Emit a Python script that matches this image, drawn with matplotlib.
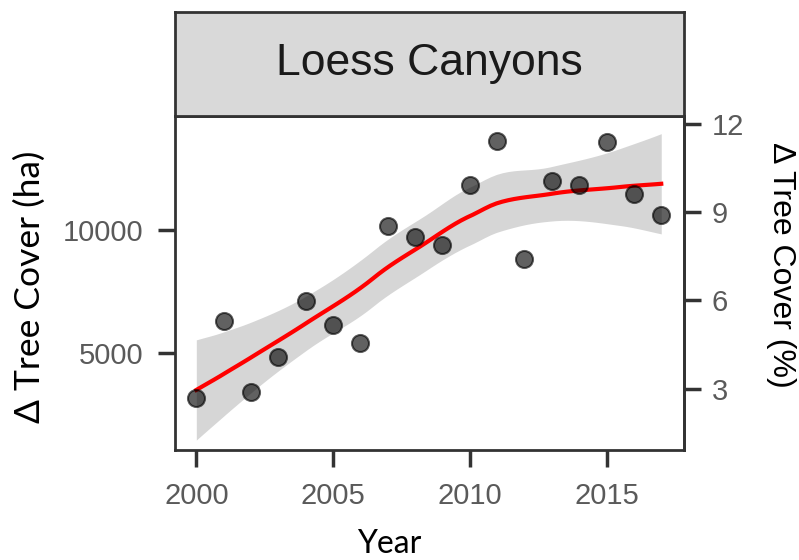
import math
import matplotlib
matplotlib.use("Agg")
import matplotlib.pyplot as plt
import numpy as np

# Annual change in tree cover, Loess Canyons
years = np.arange(2000, 2018)
tree_cover_ha = np.array([3180, 6310, 3420, 4860, 7130, 6150, 5400, 10150, 9690,
                          9370, 11790, 13570, 8800, 11960, 11800, 13530, 11450, 10570])
region = "Loess Canyons"
total_area_ha = 119000  # used for the % axis

x_ticks = [2000, 2005, 2010, 2015]
y_ticks = [5000, 10000]
pct_ticks = [3, 6, 9, 12]

SPAN = 0.75
DEGREE = 1


def local_fit(x, x0, span=SPAN, degree=DEGREE):
    # tricube-weighted local polynomial; returns operator rows for value and slope
    n = len(x)
    q = int(np.floor(n * span))
    d = np.abs(x - x0)
    h = np.sort(d)[q - 1]
    u = np.clip(d / h, 0, 1)
    w = (1 - u ** 3) ** 3
    X = np.column_stack([(x - x0) ** k for k in range(degree + 1)])
    XtW = X.T * w
    B = np.linalg.solve(XtW @ X, XtW)
    return B[0], B[1]


def kd_splits(pts, fc):
    if len(pts) <= fc:
        return []
    m = np.median(pts)
    left, right = pts[pts <= m], pts[pts > m]
    if len(right) == 0:
        return []
    return kd_splits(left, fc) + [m] + kd_splits(right, fc)


def loess_operator(x, x_eval, span=SPAN):
    # fit at kd-tree vertices, cubic Hermite in between
    margin = 0.005 * (x.max() - x.min())
    fc = int(np.floor(len(x) * span * 0.2))
    verts = np.array([x.min() - margin] + kd_splits(np.sort(x), fc) + [x.max() + margin])
    vals, slopes = zip(*[local_fit(x, v, span) for v in verts])
    vals, slopes = np.array(vals), np.array(slopes)
    rows = []
    for t in x_eval:
        i = min(np.searchsorted(verts, t, side="right") - 1, len(verts) - 2)
        hh = verts[i + 1] - verts[i]
        s = (t - verts[i]) / hh
        h00 = 2 * s ** 3 - 3 * s ** 2 + 1
        h10 = s ** 3 - 2 * s ** 2 + s
        h01 = -2 * s ** 3 + 3 * s ** 2
        h11 = s ** 3 - s ** 2
        rows.append(h00 * vals[i] + h10 * hh * slopes[i] + h01 * vals[i + 1] + h11 * hh * slopes[i + 1])
    return np.array(rows)


def t_quantile(p, df):
    c = math.exp(math.lgamma((df + 1) / 2) - math.lgamma(df / 2)) / math.sqrt(df * math.pi)

    def cdf(t):
        g = np.linspace(0, t, 2001)
        return 0.5 + np.trapezoid(c * (1 + g ** 2 / df) ** (-(df + 1) / 2), g)

    lo, hi = 0.0, 20.0
    for _ in range(60):
        mid = (lo + hi) / 2
        if cdf(mid) < p:
            lo = mid
        else:
            hi = mid
    return (lo + hi) / 2


x = years.astype(float)
y = tree_cover_ha.astype(float)
L = loess_operator(x, x)
M = np.eye(len(x)) - L
MtM = M.T @ M
one_delta = np.trace(MtM)
two_delta = np.trace(MtM @ MtM)
resid = y - L @ y
sigma = math.sqrt(np.sum(resid ** 2) / one_delta)

xg = np.linspace(x.min(), x.max(), 80)
Lg = loess_operator(x, xg)
fit = Lg @ y
se = sigma * np.sqrt(np.sum(Lg ** 2, axis=1))
tcrit = t_quantile(0.975, one_delta ** 2 / two_delta)

fig = plt.figure(figsize=(7.99, 5.6), dpi=100)
ax = fig.add_axes([0.2190, 0.1964, 0.6370, 0.5964])

ax.fill_between(xg, fit - tcrit * se, fit + tcrit * se, color="#999999", alpha=0.4,
                linewidth=0, zorder=1)
ax.plot(xg, fit, color="red", linewidth=3, zorder=2)
ax.scatter(x, y, s=150, c="black", alpha=0.62, edgecolors="black", linewidths=1.5, zorder=3)

ax.set_xlim(1999.22, 2017.83)
ax.set_ylim(1095, 14584)
ax.set_xticks(x_ticks)
ax.set_yticks(y_ticks)

for lab in ax.get_xticklabels() + ax.get_yticklabels():
    lab.set_fontfamily("Liberation Sans")
    lab.set_fontsize(21)
    lab.set_color("#5a5a5a")
ax.tick_params(axis="both", length=12, width=2.5, color="#333333", pad=11)
for sp in ax.spines.values():
    sp.set_color("#333333")
    sp.set_linewidth(2)

sec = ax.secondary_yaxis("right", functions=(lambda v: v / total_area_ha * 100,
                                             lambda p: p * total_area_ha / 100))
sec.set_yticks(pct_ticks)
sec.tick_params(length=12, width=2.5, color="#333333", pad=8)
for lab in sec.get_yticklabels():
    lab.set_fontfamily("Liberation Sans")
    lab.set_fontsize(21)
    lab.set_color("#5a5a5a")
sec.spines["right"].set_color("#333333")
sec.spines["right"].set_linewidth(2)

# facet strip
strip = fig.add_axes([0.2190, 0.7929, 0.6370, 0.1857])
strip.set_facecolor("#D9D9D9")
strip.set_xticks([])
strip.set_yticks([])
for sp in strip.spines.values():
    sp.set_color("#333333")
    sp.set_linewidth(2)
strip.text(0.5, 0.5, region, ha="center", va="center", fontsize=32,
           family="Liberation Sans", color="#1a1a1a", transform=strip.transAxes)

fig.text(30 / 799, 1 - 287 / 560, "\u0394 Tree Cover (ha)", rotation=90, ha="center",
         va="center", fontsize=25.5, family=["Lato", "DejaVu Sans"], color="black")
fig.text(781 / 799, 1 - 265 / 560, "\u0394 Tree Cover (%)", rotation=270, ha="center",
         va="center", fontsize=23, family="Liberation Sans", color="black")
fig.text(389 / 799, 1 - 544 / 560, "Year", ha="center", va="center", fontsize=23,
         family=["Lato", "DejaVu Sans"], color="black")

fig.savefig("out.png", dpi=100)
